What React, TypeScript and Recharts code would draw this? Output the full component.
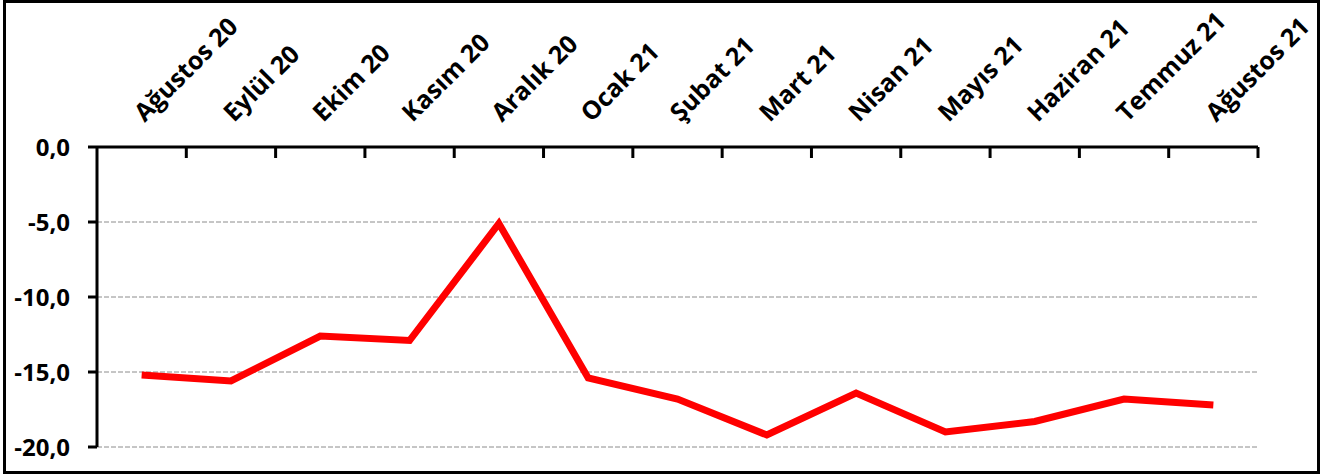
import { LineChart, Line, XAxis, YAxis, CartesianGrid } from "recharts"

const months = [
  "Ağustos 20", "Eylül 20", "Ekim 20", "Kasım 20", "Aralık 20", "Ocak 21", "Şubat 21",
  "Mart 21", "Nisan 21", "Mayıs 21", "Haziran 21", "Temmuz 21", "Ağustos 21",
]
const values = [-15.2, -15.6, -12.6, -12.9, -5.1, -15.4, -16.8, -19.2, -16.4, -19.0, -18.3, -16.8, -17.2]
const yTicks = [-20, -15, -10, -5, 0]

const data = months.map((m, i) => ({ month: m, value: values[i] }))

const W = 1328
const H = 474
const M = { top: 117, right: 70, bottom: 27, left: 0 }
const Y_W = 97
const plotW = W - M.left - M.right - Y_W
const band = plotW / months.length
const font = "'Open Sans', sans-serif"

const fmt = (v: number) => v.toFixed(1).replace(".", ",")

// label at band centre, tick mark on the right band edge (Excel style)
function MonthTick(props: any) {
  const { x, y, payload } = props
  const tx = x + 3
  const ty = y - 24
  return (
    <g>
      <line x1={x + band / 2} y1={y} x2={x + band / 2} y2={y + 11} stroke="#000" strokeWidth={3} />
      <text
        x={tx}
        y={ty}
        transform={`rotate(-45, ${tx}, ${ty})`}
        textAnchor="start"
        fontFamily={font}
        fontWeight={700}
        fontSize={25}
        fill="#000"
      >
        {payload.value}
      </text>
    </g>
  )
}

export default function App() {
  return (
    <div style={{ position: "absolute", left: 0, top: 0, width: W, height: H, background: "#fff" }}>
      <div
        style={{
          position: "absolute", left: 3, top: 0, width: 1317, height: 474,
          border: "3px solid #000", boxSizing: "border-box",
        }}
      />
      <div style={{ position: "absolute", left: 0, top: 0 }}>
        <LineChart width={W} height={H} data={data} margin={M}>
          <CartesianGrid vertical={false} stroke="#8c8c8c" strokeDasharray="5 2" />
          <XAxis
            dataKey="month"
            orientation="top"
            height={30}
            interval={0}
            padding={{ left: band / 2, right: band / 2 }}
            axisLine={{ stroke: "#000", strokeWidth: 3 }}
            tickLine={false}
            tickSize={0}
            tickMargin={0}
            tick={<MonthTick />}
          />
          <YAxis
            width={Y_W}
            domain={[-20, 0]}
            ticks={yTicks}
            interval={0}
            tickFormatter={fmt}
            axisLine={{ stroke: "#000", strokeWidth: 3 }}
            tickLine={{ stroke: "#000", strokeWidth: 3 }}
            tickSize={9}
            tickMargin={18}
            tick={{ fill: "#000", fontSize: 24, fontWeight: 700, fontFamily: font }}
          />
          <Line
            type="linear"
            dataKey="value"
            stroke="#ff0000"
            strokeWidth={7}
            dot={false}
            activeDot={false}
            isAnimationActive={false}
          />
        </LineChart>
      </div>
    </div>
  )
}
